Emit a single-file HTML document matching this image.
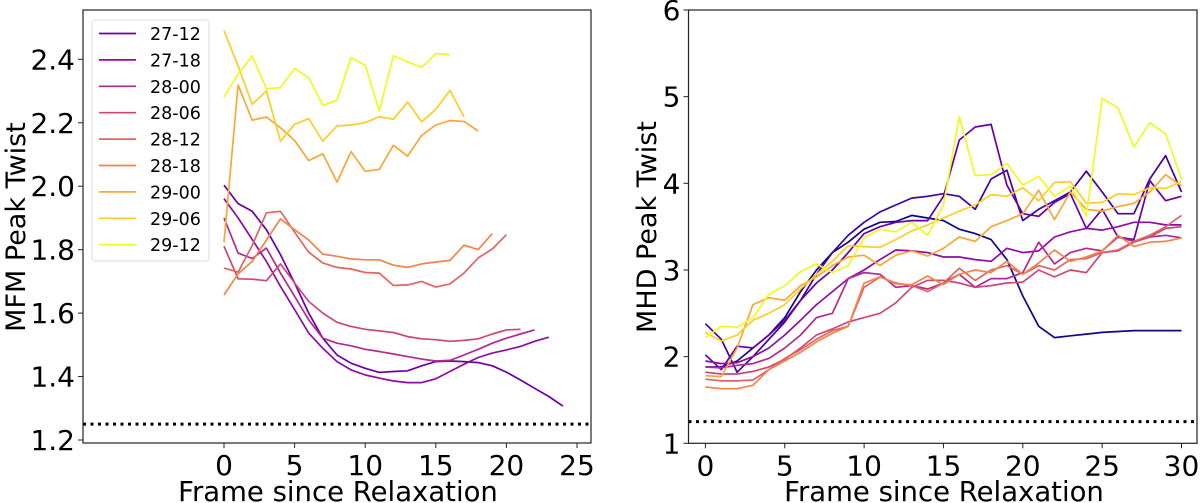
<!DOCTYPE html>
<html><head><meta charset="utf-8"><style>
html,body{margin:0;padding:0;background:#fff;}
svg{display:block;font-family:"DejaVu Sans","Liberation Sans",sans-serif;}
</style></head><body>
<svg id="chart" width="1200" height="503" viewBox="0 0 1200 503"></svg>
<script>
const legendLabels=["27-12","27-18","28-00","28-06","28-12","28-18","29-00","29-06","29-12"];
const leftColors=["#6a00a8","#8f0da4","#b12a90","#cc4778","#e16462","#f2844b","#fca636","#fcce25","#f0f921"];
const mfm2712=[2.003,1.945,1.921,1.863,1.784,1.695,1.6,1.521,1.468,1.442,1.426,1.413,1.416,1.418,1.434,1.447,1.449,1.447,1.444,1.434,1.414,1.389,1.363,1.337,1.307];
const mfm2718=[1.961,1.9,1.832,1.763,1.684,1.611,1.537,1.489,1.447,1.421,1.405,1.395,1.386,1.381,1.381,1.393,1.416,1.439,1.46,1.474,1.484,1.495,1.511,1.524];
const mfm2800=[1.9,1.789,1.772,1.805,1.726,1.653,1.579,1.521,1.505,1.497,1.486,1.479,1.471,1.463,1.455,1.449,1.451,1.468,1.486,1.505,1.521,1.534,1.547];
const mfm2806=[1.811,1.708,1.707,1.702,1.755,1.695,1.637,1.6,1.571,1.558,1.549,1.544,1.539,1.526,1.519,1.516,1.511,1.514,1.519,1.534,1.547,1.549];
const mfm2812=[1.742,1.729,1.813,1.916,1.921,1.855,1.792,1.758,1.744,1.739,1.728,1.726,1.687,1.689,1.7,1.682,1.692,1.726,1.774,1.802,1.847];
const mfm2818=[1.657,1.724,1.763,1.83,1.897,1.863,1.83,1.786,1.779,1.771,1.768,1.768,1.751,1.744,1.755,1.761,1.766,1.814,1.8,1.851];
const mfm2900=[1.823,2.319,2.208,2.218,2.184,2.144,2.081,2.102,2.013,2.109,2.047,2.053,2.129,2.095,2.16,2.193,2.207,2.204,2.174];
const mfm2906=[2.49,2.379,2.258,2.3,2.142,2.195,2.213,2.142,2.19,2.193,2.2,2.219,2.211,2.265,2.203,2.242,2.302,2.219];
const mfm2912=[2.281,2.353,2.411,2.307,2.311,2.371,2.342,2.255,2.271,2.405,2.381,2.237,2.411,2.392,2.374,2.418,2.415];
const mfmSeries=[mfm2712,mfm2718,mfm2800,mfm2806,mfm2812,mfm2818,mfm2900,mfm2906,mfm2912];
const leftXTicks=[0,5,10,15,20,25];
const leftYTicks=[1.2,1.4,1.6,1.8,2.0,2.2,2.4];
const leftYTickLabels=["1.2","1.4","1.6","1.8","2.0","2.2","2.4"];
const rightColors=["#0d0887","#41049d","#6a00a8","#8f0da4","#b12a90","#cc4778","#e16462","#f2844b","#fca636","#fcce25","#f0f921"];
const mhdA=[1.88,1.88,1.95,2.1,2.25,2.45,2.75,3.0,3.2,3.32,3.47,3.55,3.56,3.63,3.6,3.57,3.47,3.42,3.35,3.12,2.7,2.35,2.22,2.24,2.26,2.28,2.29,2.3,2.3,2.3,2.3];
const mhdB=[2.38,2.2,1.82,2.0,2.2,2.4,2.65,2.95,3.2,3.4,3.55,3.67,3.75,3.83,3.85,3.88,3.85,3.7,4.05,4.15,3.57,3.7,3.8,3.9,4.14,3.9,3.65,3.65,4.05,4.32,3.9];
const mhdC=[2.02,1.85,2.12,2.1,2.25,2.42,2.65,2.85,3.0,3.2,3.42,3.5,3.55,3.57,3.57,3.85,4.5,4.65,4.68,3.98,3.65,3.62,3.78,3.88,3.48,3.7,3.38,3.35,4.03,3.8,3.85];
const mhdD=[1.95,1.92,1.93,2.0,2.1,2.25,2.42,2.6,2.75,2.9,3.0,3.12,3.23,3.22,3.2,3.15,3.15,3.12,3.1,3.25,3.2,3.22,3.38,3.44,3.48,3.46,3.5,3.55,3.55,3.52,3.52];
const mhdE=[1.88,1.87,1.9,1.92,1.98,2.1,2.25,2.45,2.5,2.9,2.97,2.95,2.8,2.82,2.78,2.85,2.95,2.8,2.9,2.9,2.97,3.32,3.07,3.2,3.25,3.22,3.38,3.33,3.38,3.4,3.37];
const mhdF=[1.82,1.8,1.8,1.83,1.88,1.97,2.1,2.25,2.32,2.4,2.45,2.5,2.62,2.8,2.88,2.88,2.85,2.8,2.82,2.85,2.86,3.0,2.92,3.0,2.97,3.2,3.22,3.32,3.38,3.48,3.5];
const mhdG=[1.74,1.72,1.72,1.73,1.85,1.98,2.08,2.2,2.3,2.35,2.8,2.92,2.85,2.82,2.75,2.85,3.02,2.88,3.0,3.05,2.95,3.05,3.0,3.12,3.13,3.2,3.23,3.33,3.4,3.5,3.63];
const mhdH=[1.65,1.63,1.63,1.67,1.85,1.95,2.05,2.17,2.27,2.35,2.85,2.92,2.84,2.83,2.93,2.83,2.95,3.0,2.97,3.1,2.95,3.08,3.23,3.1,3.15,3.22,3.4,3.27,3.32,3.33,3.37];
const mhdI=[1.78,1.77,2.1,2.6,2.68,2.65,2.82,2.92,3.05,3.15,3.17,3.05,3.17,3.22,3.16,3.25,3.38,3.33,3.5,3.57,3.65,3.92,3.58,3.9,3.7,3.68,3.73,3.77,3.9,4.1,3.97];
const mhdJ=[2.28,2.18,2.25,2.42,2.5,2.6,2.78,2.95,3.1,3.28,3.27,3.26,3.35,3.45,3.52,3.6,3.68,3.75,3.87,3.85,3.95,3.8,4.01,4.02,3.77,3.78,3.88,3.87,3.95,3.94,4.02];
const mhdK=[2.22,2.35,2.34,2.45,2.72,2.82,2.98,3.07,2.97,3.05,3.37,3.47,3.44,3.55,3.4,3.75,4.77,4.09,4.1,4.23,3.98,4.08,3.85,3.97,3.62,4.98,4.87,4.42,4.7,4.57,4.05];
const mhdSeries=[mhdA,mhdB,mhdC,mhdD,mhdE,mhdF,mhdG,mhdH,mhdI,mhdJ,mhdK];
const rightXTicks=[0,5,10,15,20,25,30];
const rightYTicks=[1,2,3,4,5,6];
const thresholdValue=1.25;

const NS="http://www.w3.org/2000/svg";
const svg=document.getElementById('chart');
function mk(tag,attrs,parent){const e=document.createElementNS(NS,tag);for(const k in attrs)e.setAttribute(k,attrs[k]);(parent||svg).appendChild(e);return e;}

function drawPanel(cfg){
  const g=mk('g',{});
  
  
  const sx=v=>cfg.x0+(v-cfg.xmin)*(cfg.x1-cfg.x0)/(cfg.xmax-cfg.xmin);
  const sy=v=>cfg.y0-(v-cfg.ymin)*(cfg.y0-cfg.y1)/(cfg.ymax-cfg.ymin);
  const th=mk('line',{x1:cfg.L,x2:cfg.R,y1:sy(thresholdValue),y2:sy(thresholdValue),stroke:'#000','stroke-width':3,'stroke-dasharray':'3,4.5'},g);
  
  
  cfg.series.forEach((s,i)=>{
    const p=mk('polyline',{points:s.map((v,j)=>sx(j).toFixed(1)+','+sy(v).toFixed(1)).join(' '),fill:'none',stroke:cfg.colors[i],'stroke-width':1.7,'stroke-linejoin':'round'},g);
    
    
  });
  const fr=mk('rect',{x:cfg.L,y:cfg.T,width:cfg.R-cfg.L,height:cfg.B-cfg.T,fill:'none',stroke:'#222','stroke-width':1.2},g);
  
  
  cfg.xticks.forEach(t=>{
    mk('line',{x1:sx(t),x2:sx(t),y1:cfg.B,y2:cfg.B+5,stroke:'#222'},g);
    const tx=mk('text',{x:sx(t),y:cfg.B+32,'text-anchor':'middle','font-size':28,fill:'#000'},g);
    tx.textContent=t;
    
    
  });
  cfg.yticks.forEach((t,i)=>{
    mk('line',{x1:cfg.L-5,x2:cfg.L,y1:sy(t),y2:sy(t),stroke:'#222'},g);
    const tx=mk('text',{x:cfg.L-8,y:sy(t)+10,'text-anchor':'end','font-size':28,fill:'#000'},g);
    tx.textContent=cfg.ytickLabels?cfg.ytickLabels[i]:t;
    
    
  });
  const xl=mk('text',{x:cfg.xlabelX,y:501,'text-anchor':'middle','font-size':27.5,fill:'#000'},g);
  xl.textContent='Frame since Relaxation';
  
  
  const yl=mk('text',{x:0,y:0,'text-anchor':'middle','font-size':27,fill:'#000',transform:`translate(${cfg.ylabelX},${cfg.ylabelY}) rotate(-90)`},g);
  yl.textContent=cfg.ylabel;
  
  
}

drawPanel({name:'mfm-panel',L:83,R:591,T:10,B:443,x0:224,x1:577,xmin:0,xmax:25,y0:440,y1:59.3,ymin:1.2,ymax:2.4,
  series:mfmSeries,colors:leftColors,labels:legendLabels,xticks:leftXTicks,yticks:leftYTicks,ytickLabels:leftYTickLabels,
  xlabelX:338,ylabel:'MFM Peak Twist',ylabelX:25,ylabelY:227});
drawPanel({name:'mhd-panel',L:688.5,R:1197,T:10,B:443.3,x0:705.4,x1:1181.5,xmin:0,xmax:30,y0:443.3,y1:10,ymin:1,ymax:6,
  series:mhdSeries,colors:rightColors,xticks:rightXTicks,yticks:rightYTicks,
  xlabelX:944,ylabel:'MHD Peak Twist',ylabelX:656,ylabelY:227});

const lg=mk('g',{});


mk('rect',{x:92,y:20,width:117,height:241,rx:3,fill:'#fff',stroke:'#ddd','stroke-width':1},lg);
legendLabels.forEach((lab,i)=>{
  const y=33.5+i*26.4;
  const e=mk('g',{},lg);
  
  
  mk('line',{x1:99,x2:136,y1:y,y2:y,stroke:leftColors[i],'stroke-width':1.7},e);
  const t=mk('text',{x:150,y:y+6.5,'font-size':17.5,fill:'#000'},e);
  t.textContent=lab;
});
</script>
</body></html>
